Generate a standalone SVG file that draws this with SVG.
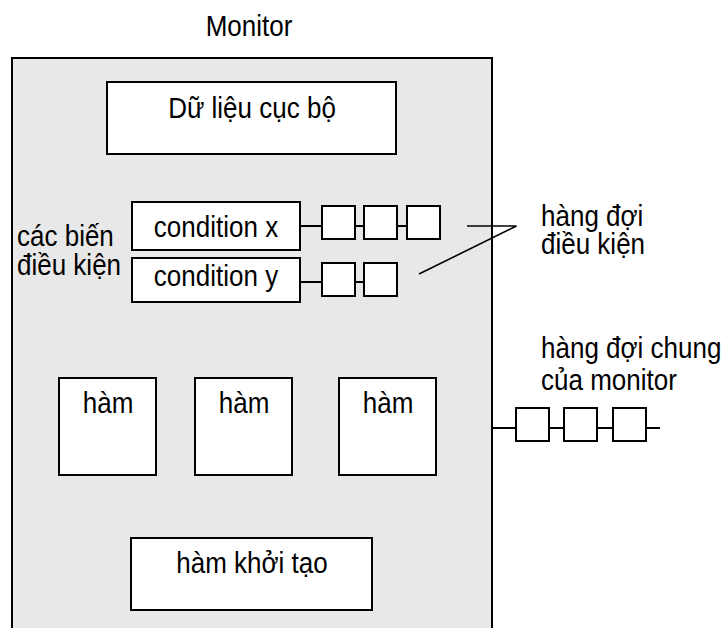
<svg xmlns="http://www.w3.org/2000/svg" width="725" height="628" viewBox="0 0 725 628">
<style>
text{font-family:"Liberation Sans",Arial,sans-serif;font-size:26px;fill:#000}
.c{text-anchor:middle}
.box{fill:#fff;stroke:#000;stroke-width:2}
.q{fill:#fff;stroke:#000;stroke-width:2}
.ln{stroke:#000;stroke-width:2;fill:none}
</style>
<rect width="725" height="628" fill="#fff"/>
<g id="monitor">
<rect x="12" y="58" width="480" height="590" fill="#e8e8e8" stroke="#000" stroke-width="2"/>
<text class="c" transform="translate(249 36) scale(1 1.1)">Monitor</text>
</g>
<g id="local-data">
<rect class="box" x="107" y="82" width="289" height="72"/>
<text class="c" transform="translate(252 118) scale(1 1.1)">Dữ liệu cục bộ</text>
</g>
<g id="cond-label">
<text transform="translate(17 246) scale(1 1.1)">các biến</text>
<text transform="translate(17 275) scale(1 1.1)">điều kiện</text>
</g>
<g id="cond-x">
<rect class="box" x="132" y="202" width="168" height="48"/>
<text class="c" transform="translate(216 237) scale(1 1.1)">condition x</text>
</g>
<g id="cond-y">
<rect class="box" x="132" y="258" width="168" height="44"/>
<text class="c" transform="translate(216 286) scale(1 1.1)">condition y</text>
</g>
<g id="queue-x">
<rect class="q" x="322" y="206" width="33" height="33"/>
<rect class="q" x="364" y="206" width="33" height="33"/>
<rect class="q" x="407" y="206" width="33" height="33"/>
</g>
<g id="queue-y">
<rect class="q" x="322" y="263" width="33" height="33"/>
<rect class="q" x="364" y="263" width="33" height="33"/>
</g>
<g id="cond-queue-label">
<text transform="translate(541 226) scale(1 1.1)">hàng đợi</text>
<text transform="translate(541 254) scale(1 1.1)">điều kiện</text>
</g>
<g id="ham1">
<rect class="box" x="59" y="378" width="97" height="97"/>
<text class="c" transform="translate(108 413) scale(1 1.1)">hàm</text>
</g>
<g id="ham2">
<rect class="box" x="195" y="378" width="97" height="97"/>
<text class="c" transform="translate(244 413) scale(1 1.1)">hàm</text>
</g>
<g id="ham3">
<rect class="box" x="339" y="378" width="97" height="97"/>
<text class="c" transform="translate(388 413) scale(1 1.1)">hàm</text>
</g>
<g id="init">
<rect class="box" x="131" y="538" width="241" height="72"/>
<text class="c" transform="translate(252 573) scale(1 1.1)">hàm khởi tạo</text>
</g>
<g id="entry-queue">
<rect class="q" x="516" y="408" width="33" height="33"/>
<rect class="q" x="564" y="408" width="33" height="33"/>
<rect class="q" x="613" y="408" width="33" height="33"/>
</g>
<g id="entry-queue-label">
<text transform="translate(541 358) scale(1 1.1)">hàng đợi chung</text>
<text transform="translate(541 390) scale(1 1.1)">của monitor</text>
</g>
<g id="connectors">
<path class="ln" d="M300 226H322M355 226H364M397 226H407"/>
<path class="ln" d="M300 282H322M355 282H364"/>
<path class="ln" d="M492 428H516M549 428H564M597 428H613M646 428H660"/>
<path d="M467 226H516.5L419 274" stroke="#000" stroke-width="1.6" fill="none"/>
</g>
</svg>
